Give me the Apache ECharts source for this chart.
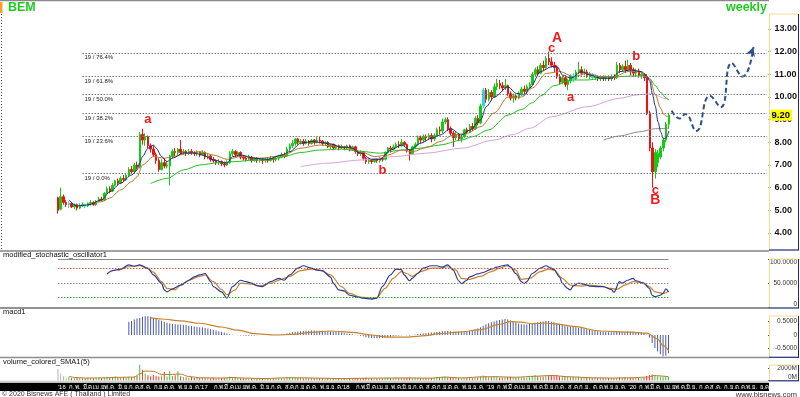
<!DOCTYPE html>
<html>
<head>
<meta charset="utf-8">
<script src="https://cdn.jsdelivr.net/npm/echarts@6/dist/echarts.min.js"></script>
<style>
html, body { margin: 0; padding: 0; background: #fff; }
#chart { width: 800px; height: 397px; }
</style>
</head>
<body>
<div id="chart"></div>
<script>
// ---------------- D A T A ---------------- //

// weekly BEM candles from the week of 4 Jan 2016: [open, close, low, high]
const ohlc = [
  [5.55,5.00,4.85,5.60],[5.05,5.60,5.00,6.00],[5.60,5.35,5.25,5.70],[5.35,5.25,5.15,5.45],
  [5.25,5.30,5.10,5.40],[5.30,5.15,5.10,5.35],[5.15,5.25,5.05,5.30],[5.25,5.10,5.00,5.30],
  [5.10,5.20,5.05,5.30],[5.20,5.25,5.15,5.35],[5.25,5.20,5.10,5.30],[5.20,5.30,5.15,5.35],
  [5.30,5.35,5.20,5.45],[5.35,5.25,5.20,5.40],[5.25,5.40,5.20,5.45],[5.40,5.50,5.35,5.60],
  [5.50,5.45,5.40,5.60],[5.45,5.75,5.40,5.80],[5.75,5.95,5.70,6.05],[5.95,5.85,5.75,6.05],
  [5.85,6.10,5.80,6.20],[6.10,6.30,6.05,6.35],[6.30,6.20,6.10,6.40],[6.20,6.40,6.15,6.50],
  [6.40,6.35,6.25,6.55],[6.35,6.55,6.30,6.60],[6.55,6.80,6.50,6.90],[6.80,6.70,6.60,6.95],
  [6.70,7.00,6.65,7.10],[7.00,6.90,6.80,7.15],[6.90,8.35,6.85,8.45],[8.35,8.10,7.90,8.60],
  [8.10,8.25,7.85,8.40],[8.25,7.85,7.75,8.30],[7.85,7.70,7.55,7.95],[7.70,7.45,7.35,7.85],
  [7.45,7.20,7.05,7.55],[7.20,6.80,6.70,7.30],[6.80,7.10,6.75,7.25],[7.10,6.95,6.85,7.30],
  [6.95,7.00,6.85,7.15],[6.95,7.40,6.10,7.45],[7.40,7.60,7.30,7.70],[7.60,7.55,7.40,7.75],
  [7.55,7.70,7.45,7.75],[7.70,7.55,7.45,8.10],[7.55,7.60,7.45,7.70],[7.60,7.50,7.40,7.65],
  [7.50,7.60,7.45,7.70],[7.60,7.55,7.45,7.70],[7.55,7.50,7.40,7.60],[7.50,7.55,7.40,7.65],
  [7.55,7.45,7.35,7.60],[7.45,7.55,7.40,7.65],[7.55,7.35,7.25,7.60],[7.35,7.40,7.25,7.50],
  [7.40,7.25,7.15,7.45],[7.25,7.20,7.10,7.35],[7.20,7.10,7.00,7.25],[7.10,7.15,7.00,7.25],
  [7.15,7.05,6.95,7.20],[7.05,7.00,6.90,7.15],[7.00,7.10,6.95,7.20],[7.10,7.50,7.05,7.60],
  [7.50,7.60,7.40,7.70],[7.60,7.45,7.35,7.65],[7.45,7.55,7.35,7.60],[7.55,7.35,7.25,7.60],
  [7.35,7.30,7.20,7.45],[7.30,7.25,7.15,7.40],[7.25,7.35,7.20,7.45],[7.35,7.20,7.10,7.40],
  [7.20,7.30,7.15,7.35],[7.30,7.20,7.10,7.35],[7.20,7.25,7.10,7.30],[7.25,7.20,7.05,7.30],
  [7.20,7.25,7.10,7.30],[7.25,7.20,7.10,7.30],[7.20,7.30,7.15,7.40],[7.30,7.25,7.10,7.35],
  [7.25,7.30,7.15,7.40],[7.30,7.35,7.20,7.45],[7.35,7.45,7.30,7.55],[7.45,7.40,7.30,7.55],
  [7.40,7.70,7.35,7.80],[7.70,7.85,7.60,7.95],[7.85,7.95,7.75,8.10],[7.95,8.15,7.85,8.20],
  [8.15,8.00,7.90,8.20],[8.00,8.05,7.90,8.15],[8.05,7.95,7.85,8.15],[7.95,8.05,7.90,8.15],
  [8.05,7.95,7.85,8.10],[7.95,8.10,7.90,8.15],[8.10,8.00,7.90,8.15],[8.00,8.10,7.95,8.25],
  [8.10,8.05,7.95,8.25],[8.05,7.95,7.85,8.10],[7.95,8.00,7.85,8.05],[8.00,7.80,7.75,8.05],
  [7.80,7.90,7.70,7.95],[7.90,7.75,7.65,7.95],[7.75,7.85,7.70,7.90],[7.85,7.75,7.65,7.90],
  [7.75,7.80,7.70,7.90],[7.80,7.75,7.65,7.85],[7.75,7.85,7.70,7.90],[7.85,7.70,7.60,7.90],
  [7.70,7.80,7.65,7.85],[7.80,7.60,7.50,7.85],[7.60,7.50,7.40,7.65],[7.50,7.55,7.40,7.65],
  [7.55,7.30,7.20,7.60],[7.30,7.15,7.05,7.35],[7.15,7.20,7.05,7.30],[7.20,7.15,7.05,7.25],
  [7.15,7.25,7.10,7.30],[7.25,7.20,7.10,7.30],[7.20,7.30,7.10,7.35],[7.30,7.25,7.15,7.35],
  [7.25,7.55,7.20,7.60],[7.55,7.75,7.50,7.80],[7.75,7.70,7.55,7.85],[7.70,7.80,7.65,7.90],
  [7.80,7.90,7.75,8.00],[7.90,7.85,7.75,8.05],[7.85,8.00,7.80,8.15],[8.00,7.90,7.80,8.05],
  [7.90,7.65,7.55,7.95],[7.65,7.50,7.20,7.70],[7.50,7.80,7.45,7.85],[7.80,7.90,7.70,8.00],
  [7.90,8.20,7.85,8.30],[8.20,8.10,7.95,8.30],[8.10,8.25,8.00,8.35],[8.25,8.20,8.05,8.35],
  [8.20,8.30,8.10,8.40],[8.30,8.15,8.00,8.40],[8.15,8.30,8.05,8.40],[8.30,8.55,8.25,8.65],
  [8.55,8.50,8.35,8.70],[8.50,8.90,8.40,9.05],[8.90,9.00,8.80,9.10],[9.00,8.60,8.50,9.10],
  [8.60,8.40,8.30,8.70],[8.40,8.20,7.80,8.50],[8.20,8.35,8.10,8.45],[8.35,8.15,8.05,8.40],
  [8.15,8.25,8.00,8.35],[8.25,8.55,8.20,8.60],[8.55,8.45,8.35,8.65],[8.45,8.70,8.40,8.80],
  [8.70,8.60,8.50,8.85],[8.60,9.05,8.55,9.15],[9.05,8.85,8.75,9.20],[8.85,9.60,8.80,9.70],
  [9.60,10.30,9.50,10.40],[10.30,9.90,9.75,10.40],[9.90,10.20,9.80,10.35],[10.20,10.00,9.85,10.30],
  [10.00,10.45,9.95,10.60],[10.45,10.60,10.30,10.80],[10.60,10.50,10.35,10.75],[10.50,10.40,10.25,10.65],
  [10.40,10.50,10.30,10.80],[10.50,10.15,10.05,10.55],[10.15,9.95,9.85,10.25],[9.95,10.05,9.75,10.15],
  [10.05,9.95,9.85,10.10],[9.95,10.15,9.90,10.25],[10.15,10.35,10.05,10.45],[10.35,10.25,10.10,10.50],
  [10.25,10.45,10.15,10.55],[10.45,10.55,10.35,10.65],[10.55,11.00,10.50,11.10],[11.00,11.20,10.90,11.30],
  [11.20,11.05,10.95,11.35],[11.05,11.40,11.00,11.50],[11.40,11.30,11.15,11.60],[11.30,11.70,11.25,11.80],
  [11.70,11.55,11.40,12.00],[11.55,11.40,11.30,11.75],[11.40,11.30,11.10,11.55],[11.30,10.90,10.80,11.40],
  [10.90,10.65,10.55,11.00],[10.65,10.85,10.55,10.95],[10.85,10.55,10.45,10.95],[10.55,10.70,10.30,10.80],
  [10.70,10.90,10.60,11.00],[10.90,10.80,10.65,11.05],[10.80,11.10,10.75,11.20],[11.10,11.20,11.00,11.55],
  [11.20,11.05,10.95,11.35],[11.05,11.10,10.95,11.25],[11.10,10.95,10.85,11.20],[10.95,11.00,10.80,11.10],
  [11.00,10.85,10.75,11.05],[10.85,10.90,10.75,11.00],[10.90,10.80,10.70,10.95],[10.80,10.85,10.70,10.95],
  [10.85,10.80,10.70,10.95],[10.80,10.85,10.70,10.95],[10.85,10.80,10.70,10.95],[10.80,10.90,10.70,11.00],
  [10.90,10.85,10.75,11.00],[10.85,11.40,10.80,11.55],[11.40,11.20,11.05,11.50],[11.20,11.35,11.10,11.45],
  [11.35,11.20,11.05,11.60],[11.20,11.40,11.10,11.65],[11.40,11.20,10.95,11.50],[11.20,11.05,10.90,11.30],
  [11.05,11.15,10.90,11.25],[11.15,10.95,10.85,11.25],[10.95,11.00,10.80,11.10],[11.00,10.85,10.70,11.05],
  [10.90,9.30,9.20,11.00],[9.30,7.75,7.60,9.40],[7.75,6.70,6.00,8.00],[6.70,7.55,6.40,7.70],
  [7.10,7.50,6.90,7.65],[7.35,7.75,7.25,7.85],[7.75,8.10,7.60,8.20],[8.10,8.80,8.00,8.90],
  [8.80,9.20,8.60,9.30]
];
const cyanWeeks = [4, 10, 156, 189, 196];
const lastClose = 9.20;

// moving averages: [week, price]
const maBlue = [[4,5.46],[7,5.19],[11,5.24],[16,5.46],[19,5.82],[23,6.2],[27,6.56],[29,6.78],[30,7.1],[31,7.37],[33,7.74],[35,7.88],[36,7.74],[38,7.37],[40,7.15],[42,7.3],[46,7.53],[50,7.53],[53,7.44],[57,7.22],[62,7.08],[64,7.37],[67,7.44],[72,7.3],[77,7.25],[82,7.44],[85,7.59],[89,7.96],[93,8.03],[96,8.0],[100,7.93],[104,7.78],[107,7.78],[111,7.52],[115,7.25],[118,7.25],[122,7.66],[126,7.88],[129,7.66],[133,7.96],[137,8.18],[140,8.32],[144,8.6],[148,8.32],[151,8.54],[155,8.99],[157,9.57],[160,10.0],[165,10.45],[168,10.16],[171,10.09],[173,10.4],[177,11.12],[181,11.34],[183,11.34],[185,10.97],[188,10.83],[192,11.12],[195,10.97],[199,10.83],[203,10.83],[206,11.12],[210,11.19],[214,11.12],[216,10.9],[217,10.7],[218,10.1],[219,9.6],[220,8.9],[221,8.45],[222,8.15],[223,8.2],[224,8.5]];
const maBrown = [[12,5.32],[16,5.38],[19,5.54],[23,5.9],[27,6.26],[29,6.48],[31,7.0],[35,7.37],[39,7.3],[42,7.37],[48,7.52],[52,7.59],[57,7.44],[62,7.25],[67,7.37],[74,7.3],[82,7.4],[89,7.74],[96,7.88],[104,7.81],[111,7.59],[116,7.37],[121,7.44],[126,7.66],[130,7.59],[136,7.81],[140,8.03],[145,8.32],[150,8.4],[155,8.69],[160,9.3],[165,10.0],[170,10.0],[174,10.4],[179,11.04],[184,11.12],[189,10.9],[194,11.04],[199,10.9],[204,10.9],[209,11.12],[213,11.12],[216,10.9],[217,10.8],[219,10.1],[221,9.5],[222,9.25],[223,9.15],[224,9.15]];
const maGreen = [[34,6.19],[40,6.41],[46,6.78],[52,7.0],[59,7.1],[65,7.15],[72,7.22],[78,7.25],[82,7.35],[89,7.55],[96,7.66],[104,7.7],[111,7.6],[118,7.52],[126,7.66],[133,7.74],[140,7.88],[148,8.1],[152,8.25],[158,8.55],[165,9.2],[170,9.45],[174,9.75],[177,10.05],[182,10.5],[188,10.75],[194,10.75],[200,10.83],[206,10.9],[211,10.93],[215,10.93],[217,10.8],[219,10.5],[221,10.2],[223,9.95],[224,9.88]];
const maPink = [[89,6.93],[99,7.08],[111,7.22],[123,7.37],[135,7.52],[148,7.74],[160,8.1],[167,8.35],[173,8.62],[181,9.13],[194,9.57],[206,9.94],[212,10.09],[216,10.13],[218,10.15],[220,10.05],[222,9.95],[224,9.87]];
const maGray = [[200,8.10],[206,8.28],[213,8.46],[219,8.60],[224,8.62]];

// fibonacci retracement
const fibNames = ['100.0%', '76.4%', '61.8%', '50.0%', '38.2%', '23.6%', '0.0%'];
const fibValues = [13.59, 11.95, 10.93, 10.10, 9.29, 8.28, 6.65];

// wave labels: [text, week, price]
const waveLabels = [['a',33,9.0],['b',119,6.74],['c',181,12.16],['A',183,12.6],['a',188,10.0],['b',212,11.77],['c',219,5.9],['B',219,5.45]];

// projected path: [week, price]
const forecast = [[225,9.4],[228,9.05],[230,9.25],[234,8.5],[239,10.05],[243,9.55],[247,11.5],[251,10.9],[255,12.2]];

// stochastic %K / %D: [week, value]
const stochK = [[18,69],[20,76],[23,79],[26,88],[28,85],[30,88],[33,81],[35,67],[38,50],[39,36],[40,32],[42,38],[45,46],[48,56],[50,63],[52,67],[54,70],[56,53],[57,43],[60,32],[62,19],[64,43],[67,56],[69,53],[71,50],[73,45],[75,43],[78,53],[81,60],[83,56],[85,67],[88,81],[90,86],[93,81],[95,77],[97,76],[100,63],[101,50],[103,36],[105,34],[107,25],[110,21],[112,19],[115,17],[117,19],[119,43],[122,67],[124,79],[126,78],[127,67],[129,55],[130,60],[132,70],[134,81],[137,86],[139,86],[141,83],[143,88],[145,77],[147,55],[148,49],[150,56],[151,63],[154,69],[156,72],[159,79],[161,83],[163,86],[165,88],[166,83],[168,70],[170,53],[171,49],[172,53],[174,70],[177,81],[179,86],[181,81],[182,78],[184,63],[185,50],[187,39],[188,36],[189,44],[191,50],[193,48],[195,44],[198,43],[200,43],[203,37],[204,31],[206,53],[207,50],[209,56],[211,60],[212,55],[215,50],[217,39],[218,25],[219,22],[221,25],[222,29],[223,38],[224,32]];
const stochD = [[22,76],[26,84],[30,86],[33,80],[35,73],[38,53],[40,39],[43,36],[45,46],[49,58],[52,64],[54,67],[57,53],[60,37],[62,26],[65,36],[67,50],[71,48],[74,44],[78,50],[82,58],[85,64],[89,76],[93,79],[96,77],[100,67],[104,43],[107,29],[111,21],[115,19],[117,20],[120,39],[123,60],[126,74],[128,70],[130,64],[133,74],[137,81],[140,81],[143,84],[146,77],[148,60],[151,58],[155,64],[159,74],[162,81],[165,86],[168,77],[170,58],[173,60],[177,74],[180,79],[182,77],[185,60],[188,46],[192,44],[195,46],[199,44],[203,39],[205,37],[208,46],[211,53],[214,51],[217,43],[219,32],[222,29],[223,30],[224,34]];

// macd, one bar per week from week 26
const macdStart = 26;
const macdHist = [
  0.50,0.52,0.58,0.62,0.64,0.68,0.70,0.70, 0.68,0.64,0.60,0.57,0.53,0.50,0.46,0.43,
  0.41,0.40,0.39,0.39,0.38,0.37,0.35,0.34, 0.32,0.31,0.29,0.28,0.26,0.24,0.22,0.19,
  0.17,0.14,0.12,0.09,0.06,0.03,0.01,0.00, -0.01,-0.02,-0.02,-0.03,-0.03,-0.02,-0.02,-0.01,
  0.00,0.00,0.01,0.01,0.00,0.00,0.01,0.02, 0.03,0.04,0.06,0.08,0.10,0.12,0.13,0.14,
  0.15,0.16,0.16,0.17,0.17,0.16,0.16,0.16, 0.15,0.14,0.13,0.12,0.11,0.10,0.09,0.08,
  0.06,0.05,0.03,0.01,-0.01,-0.03,-0.05,-0.08, -0.10,-0.11,-0.12,-0.12,-0.12,-0.11,-0.10,-0.09,
  -0.07,-0.05,-0.03,-0.02,-0.01,0.00,-0.01,-0.02, 0.00,0.02,0.04,0.05,0.06,0.07,0.08,0.09,
  0.10,0.11,0.12,0.14,0.15,0.15,0.14,0.13, 0.12,0.12,0.12,0.13,0.14,0.16,0.18,0.21,
  0.24,0.29,0.35,0.40,0.44,0.48,0.51,0.54, 0.56,0.58,0.60,0.58,0.55,0.51,0.47,0.43,
  0.40,0.39,0.39,0.41,0.43,0.46,0.48,0.50, 0.51,0.52,0.52,0.50,0.48,0.45,0.42,0.38,
  0.35,0.33,0.32,0.31,0.29,0.27,0.26,0.24, 0.22,0.20,0.18,0.16,0.14,0.13,0.12,0.11,
  0.10,0.10,0.10,0.11,0.12,0.12,0.12,0.13, 0.12,0.12,0.11,0.10,0.09,0.07,0.02,-0.10,
  -0.30,-0.49,-0.62,-0.72,-0.80,-0.78,-0.68
];
const macdSignal = [[34,0.64],[38,0.60],[45,0.53],[52,0.44],[60,0.30],[66,0.18],[72,0.05],[80,0.00],[86,0.02],[93,0.10],[100,0.15],[108,0.10],[115,0.00],[121,-0.08],[128,-0.08],[135,-0.02],[140,0.05],[148,0.12],[155,0.20],[162,0.40],[166,0.50],[170,0.48],[174,0.42],[179,0.45],[184,0.40],[189,0.32],[199,0.15],[210,0.11],[216,0.07],[220,-0.15],[222,-0.40],[224,-0.58]];

// weekly volume (M shares)
const volume = [
  1850,1150,700,400,
  520,430,380,460,400,350,330,450, 400,360,420,480,400,520,600,430,
  480,650,500,420,560,470,600,520, 650,750,2600,1750,1150,850,700,950,
  760,650,800,1450,650,1500,750,850, 1500,700,560,500,450,560,430,470,
  400,450,380,420,350,400,330,380, 350,420,380,600,550,420,450,380,
  350,330,380,320,340,300,330,310, 300,320,290,340,320,360,350,330,
  480,520,450,500,420,400,380,420, 360,400,350,420,380,350,330,400,
  340,380,320,300,330,310,350,300, 320,380,350,330,420,450,380,340,
  320,300,330,310,450,480,400,380, 400,360,420,380,450,500,430,400,
  420,380,400,360,380,350,420,450, 400,600,650,550,480,520,420,400,
  380,420,450,400,430,420,500,650, 800,700,600,550,650,600,500,480,
  520,580,620,500,450,480,520,500, 480,520,750,900,700,650,600,720,
  850,900,800,850,700,650,620,580, 600,550,560,620,500,480,450,470,
  430,450,420,400,410,380,400,390, 380,400,550,500,480,450,500,420,
  400,420,380,450,750,900,1000,800,
  700,650,620,600,580
];
const volSma = [[4,700],[6,500],[10,400],[16,430],[22,520],[28,560],[30,1100],[32,1550],[35,1500],[38,1000],[42,1000],[45,1050],[48,650],[52,450],[60,400],[64,500],[68,400],[76,320],[84,450],[88,450],[96,380],[104,320],[112,370],[120,400],[128,420],[136,390],[142,550],[148,430],[156,600],[160,620],[168,530],[175,700],[181,820],[188,600],[196,450],[204,400],[210,450],[216,550],[219,800],[224,620]];

const priceTicks = [4, 5, 6, 7, 8, 9, 10, 11, 12, 13];
const stochTicks = [0, 50, 100];
const macdTicks = [-0.5, 0, 0.5];
const volTicks = [0, 2000];
const thaiMonths = ['ม.ค.', 'ก.พ.', 'มี.ค.', 'เม.ย.', 'พ.ค.', 'มิ.ย.', 'ก.ค.', 'ส.ค.', 'ก.ย.', 'ต.ค.', 'พ.ย.', 'ธ.ค.'];

// ---------------- C H A R T ---------------- //

const FONT = 'Liberation Sans, Arial, Helvetica, sans-serif';
const chart = echarts.init(document.getElementById('chart'));

// one category per week, 4 Jan 2016 .. 28 Dec 2020
const cats = [];
const t0 = Date.UTC(2016, 0, 4);
for (let i = 0; i < 261; i++) cats.push(new Date(t0 + i * 604800000).toISOString().slice(0, 10));

const L = 56.6, R = 30.9;
const grids = [
  { left: L, right: R, top: 2, height: 248 },
  { left: L, right: R, top: 259, height: 48.3 },
  { left: L, right: R, top: 309, height: 48 },
  { left: L, right: R, top: 358, height: 22.5 },
  { left: L, right: R, top: 382.5, height: 1 }
];

const xAxes = grids.map((g, i) => ({
  type: 'category', gridIndex: i, data: cats, show: i === 4, z: 5,
  axisLine: { show: false }, axisTick: { show: false },
  axisLabel: {
    show: i === 4, color: '#fff', fontSize: 6, fontFamily: FONT, margin: 1, align: 'left',
    interval: (idx, val) => Number(val.slice(8, 10)) <= 7,
    formatter: (val) => {
      const m = Number(val.slice(5, 7)) - 1;
      return m === 0 ? "'" + val.slice(2, 4) : thaiMonths[m];
    }
  }
}));

const rightAxis = (gi, min, max, ticks, fmt, extra) => ({
  type: 'value', gridIndex: gi, position: 'right', min, max, scale: true,
  splitLine: { show: false }, axisLine: { show: false },
  axisTick: { show: true, customValues: ticks, length: 2, lineStyle: { color: '#555' } },
  axisLabel: Object.assign({ customValues: ticks, formatter: fmt, fontFamily: FONT }, extra)
});

const smallFmt = (v) => (v === 0 ? '0' : v.toFixed(4));
const yAxes = [
  rightAxis(0, 3.25, 14.19, priceTicks, (v) => v.toFixed(2),
    { fontSize: 9, fontWeight: 'bold', color: '#111', margin: 6 }),
  rightAxis(1, 0, 100, stochTicks, smallFmt,
    { fontSize: 6.5, color: '#333', align: 'right', margin: 29, verticalAlignMinLabel: 'bottom', verticalAlignMaxLabel: 'top' }),
  rightAxis(2, -0.824, 0.974, macdTicks, smallFmt,
    { fontSize: 6.5, color: '#333', align: 'right', margin: 29 }),
  rightAxis(3, 0, 3690, volTicks, (v) => v + 'M',
    { fontSize: 6.5, color: '#333', align: 'right', margin: 29, verticalAlignMinLabel: 'bottom' }),
  { type: 'value', gridIndex: 4, show: false }
];

const lineSeries = (name, data, color, width, xi) => ({
  name, type: 'line', xAxisIndex: xi, yAxisIndex: xi, data, symbol: 'none', smooth: 0.3,
  smoothMonotone: 'x', z: 3, lineStyle: { color, width }, silent: true
});

const candleData = ohlc.map((d, i) => cyanWeeks.includes(i)
  ? { value: d, itemStyle: { color: '#22dede', color0: '#22dede', borderColor: '#22dede', borderColor0: '#22dede' } }
  : d);

const fibLines = fibNames.map((n, i) => [
  {
    coord: [9, fibValues[i]],
    lineStyle: { color: '#7a7a7a', type: [1.5, 1.5], width: 1, opacity: i === 0 ? 0 : 1 },
    label: { show: true, position: 'insideStartBottom', formatter: '19 / ' + n, fontSize: 6, color: '#222', fontFamily: FONT, distance: 2 }
  },
  { coord: [260, fibValues[i]] }
]);

const priceTag = {
  yAxis: lastClose,
  lineStyle: { color: 'transparent', width: 0 },
  label: {
    show: true, position: 'end', formatter: lastClose.toFixed(2), distance: 2,
    backgroundColor: '#ffff00', color: '#000', fontWeight: 'bold', fontSize: 9.5,
    fontFamily: FONT, padding: [1, 2, 0, 1]
  }
};

const waveMarks = waveLabels.map(([t, w, p]) => ({
  coord: [w, p], name: t, symbol: 'circle', symbolSize: 1, itemStyle: { color: 'transparent' },
  label: {
    show: true, position: 'inside', formatter: t, color: '#ee1c1c', fontWeight: 'bold',
    fontFamily: FONT, fontSize: t === t.toUpperCase() ? 14 : 13
  }
}));

const stochRef = [[100, '#8a8a8a', 'solid'], [80, '#e84a4a', [1.5, 1.5]], [50, '#888', [1.5, 1.5]], [20, '#2ea82e', [1.5, 1.5]]]
  .map(([v, c, t]) => [{ coord: [0, v], lineStyle: { color: c, type: t, width: 1 } }, { coord: [224, v] }]);

const series = [
  {
    name: 'BEM', type: 'candlestick', xAxisIndex: 0, yAxisIndex: 0, data: candleData, barWidth: 2, z: 2,
    itemStyle: { color: '#11cc11', color0: '#ee1111', borderColor: '#11cc11', borderColor0: '#ee1111', borderWidth: 1 },
    markLine: { silent: true, symbol: ['none', 'none'], animation: false, data: fibLines.concat([priceTag]) },
    markPoint: { silent: true, animation: false, data: waveMarks }
  },
  lineSeries('MA long', maPink, '#d9a3d9', 1, 0),
  lineSeries('MA 200', maGray, '#8c8c8c', 1, 0),
  lineSeries('MA mid', maGreen, '#22c022', 1, 0),
  lineSeries('MA 10', maBrown, '#b8762e', 1, 0),
  lineSeries('MA 5', maBlue, '#1c2a86', 1, 0),
  {
    name: 'projection', type: 'line', xAxisIndex: 0, yAxisIndex: 0, data: forecast, symbol: 'none',
    smooth: 0.5, z: 4, silent: true, lineStyle: { color: '#2f4f8f', width: 2, type: [5, 3] },
    markPoint: {
      silent: true, animation: false,
      data: [{ coord: forecast[forecast.length - 1], symbol: 'arrow', symbolSize: [7, 9], symbolRotate: -20, itemStyle: { color: '#2f4f8f' }, label: { show: false } }]
    }
  },
  {
    name: 'stoch ref', type: 'line', xAxisIndex: 1, yAxisIndex: 1, data: [], silent: true,
    markLine: { silent: true, symbol: ['none', 'none'], animation: false, label: { show: false }, data: stochRef }
  },
  lineSeries('%D', stochD, '#c8842c', 1.2, 1),
  lineSeries('%K', stochK, '#2a3c98', 1.2, 1),
  {
    name: 'macd', type: 'bar', xAxisIndex: 2, yAxisIndex: 2, barWidth: 1, silent: true,
    data: macdHist.map((v, i) => [macdStart + i, v]), itemStyle: { color: '#4b5ba8' }
  },
  lineSeries('signal', macdSignal, '#c8842c', 1.2, 2),
  {
    name: 'volume', type: 'bar', xAxisIndex: 3, yAxisIndex: 3, barWidth: 1, silent: true,
    data: volume.map((v, i) => ({
      value: [i, v],
      itemStyle: { color: i < 4 ? '#b4b4b4' : (ohlc[i][1] >= ohlc[i][0] ? '#33cc33' : '#ff3030') }
    }))
  },
  lineSeries('vol sma', volSma, '#b8762e', 1, 3)
];

// frame, separators, axis boxes and captions
const YEL = '#f2dc8a', NAVY = '#1c2a78';
const gfx = [];
const line = (x1, y1, x2, y2, stroke, lw, dash) => gfx.push({
  type: 'line', silent: true, z: 6, shape: { x1, y1, x2, y2 }, style: { stroke, lineWidth: lw, lineDash: dash || null }
});
const rect = (x, y, w, h, fill, z) => gfx.push({
  type: 'rect', silent: true, z: z === undefined ? 6 : z, shape: { x, y, width: w, height: h }, style: { fill }
});
const text = (x, y, t, st) => gfx.push({
  type: 'text', silent: true, z: 10, x, y,
  style: Object.assign({ text: t, fontFamily: FONT, fontSize: 7.5, fill: '#111', verticalAlign: 'middle', align: 'left' }, st)
});

rect(0, 382.7, 769, 8.3, '#000', -1);
rect(0, 0, 769, 1.2, '#8a8a8a');
rect(0, 250, 769, 2, '#a2a2a2');
rect(0, 307.3, 769, 1.5, '#6e6e6e');
rect(0, 356.8, 769, 1.5, '#8c8c8c');
rect(0, 380.8, 769, 1, '#c4c4c4');
rect(0, 2, 2.5, 11, '#f5a623');
line(1.5, 14, 1.5, 250, '#555', 1, [1, 2]);
[[14, 250], [259, 308], [316, 357.3], [365, 380.8]].forEach(([t, b]) => {
  line(769.5, t, 769.5, b, YEL, 1);
  line(769.5, t, 799, t, YEL, 1);
  line(798.5, t, 798.5, b, NAVY, 1);
  line(769, b, 799, b, NAVY, 1.2);
});
text(8, 8, 'BEM', { fontSize: 12.5, fontWeight: 'bold', fill: '#1fcc1f' });
text(767, 8, 'weekly', { fontSize: 12.5, fontWeight: 'bold', fill: '#1fcc1f', align: 'right' });
text(3, 255.2, 'modified_stochastic_oscillator1');
text(3, 312, 'macd1');
text(3, 361.8, 'volume_colored_SMA1(5)');
text(2, 394.5, '© 2020 Bisnews AFE ( Thailand ) Limited', { fontSize: 7, fill: '#333' });
text(797, 394.5, 'www.bisnews.com', { fontSize: 7.5, fill: '#333', align: 'right' });

chart.setOption({
  animation: false,
  backgroundColor: '#fff',
  grid: grids,
  xAxis: xAxes,
  yAxis: yAxes,
  series,
  graphic: gfx
});
</script>
</body>
</html>
